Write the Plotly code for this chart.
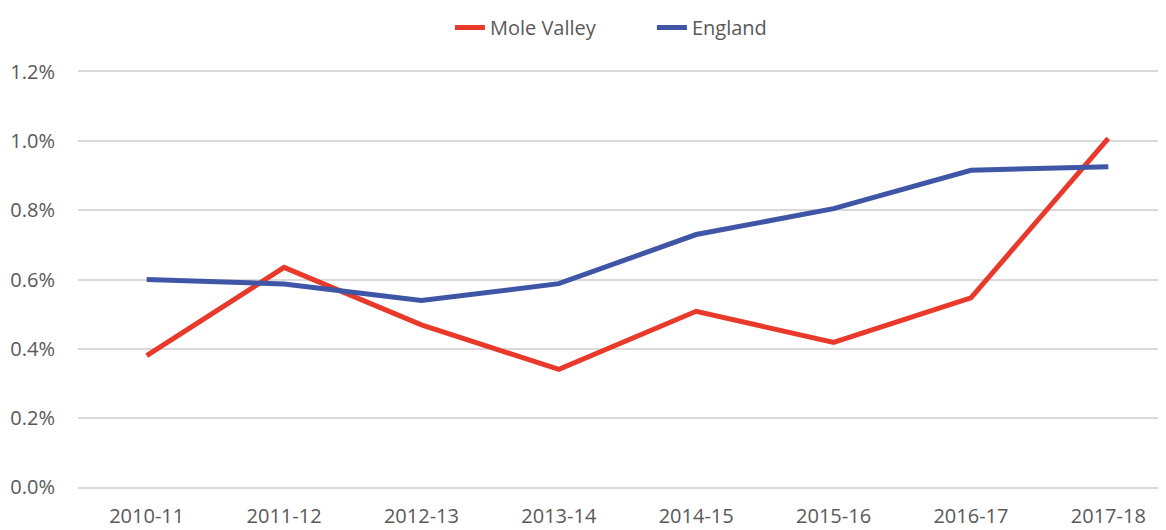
import plotly.graph_objects as go

years = ["2010-11", "2011-12", "2012-13", "2013-14", "2014-15", "2015-16", "2016-17", "2017-18"]
mole_valley = [0.00380, 0.00635, 0.00469, 0.00340, 0.00508, 0.00418, 0.00547, 0.01008]
england = [0.00600, 0.00587, 0.00539, 0.00588, 0.00730, 0.00805, 0.00916, 0.00926]
y_ticks = [0, 0.002, 0.004, 0.006, 0.008, 0.010, 0.012]

fig = go.Figure()
fig.add_trace(go.Scatter(x=years, y=mole_valley, mode="lines", name="Mole Valley",
                         line=dict(color="#E8392A", width=5)))
fig.add_trace(go.Scatter(x=years, y=england, mode="lines", name="England",
                         line=dict(color="#3F56A6", width=5)))

font = dict(family="Open Sans, Noto Sans, sans-serif", size=20, color="#595959")
fig.update_layout(
    width=1166, height=530,
    margin=dict(l=70, r=8, t=64, b=51, autoexpand=False),
    plot_bgcolor="white", paper_bgcolor="white",
    font=font,
    showlegend=True,
    legend=dict(orientation="h", x=0.379, xanchor="left", xref="container",
                y=1.0, yanchor="top", yref="container", font=font,
                traceorder="normal", entrywidth=157, entrywidthmode="pixels"),
    xaxis=dict(type="category", range=[-0.5, 7.42], showgrid=False,
               showline=True, linecolor="#D9D9D9", linewidth=1.5, mirror=True,
               ticks="", tickfont=font, ticklabelstandoff=10),
    yaxis=dict(range=[0, 0.012], tickvals=y_ticks, tickformat=".1%", showgrid=True,
               gridcolor="#D9D9D9", gridwidth=1.5, zeroline=False, showline=False,
               ticks="", tickfont=font, ticklabelstandoff=22),
)
fig.write_html("out.html")
